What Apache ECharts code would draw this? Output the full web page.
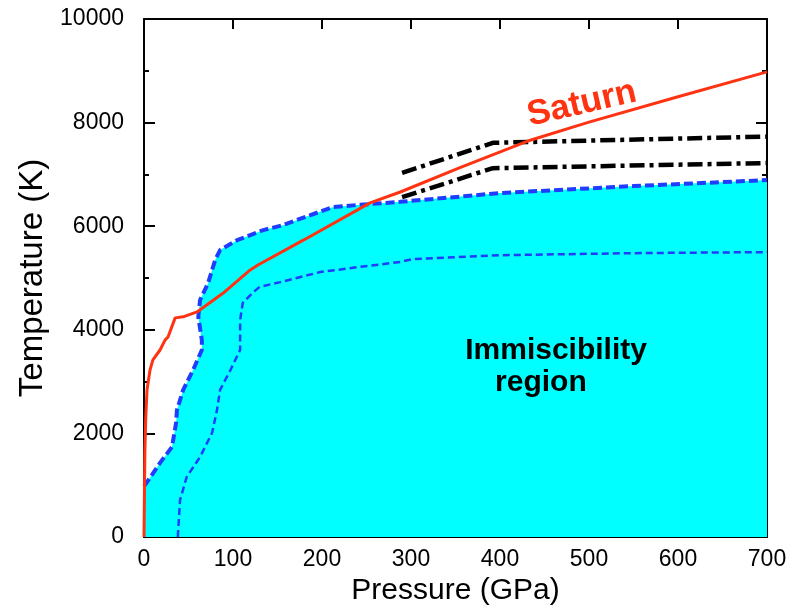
<!DOCTYPE html>
<html>
<head>
<meta charset="utf-8">
<script src="https://cdn.jsdelivr.net/npm/echarts@6/dist/echarts.min.js"></script>
<style>
html,body{margin:0;padding:0;background:#fff;}
#chart{width:787px;height:606px;}
</style>
</head>
<body>
<div id="chart"></div>
<script>
// ---- data (Pressure GPa, Temperature K) ----
var xTicks = [0, 100, 200, 300, 400, 500, 600, 700];
var yTicks = [0, 2000, 4000, 6000, 8000, 10000];

var saturn = [[0,0],[1,1680],[2,2320],[3.4,2840],[6.7,3220],[10,3420],[18,3610],[23.6,3800],[27,3860],[35,4230],[44,4250],[59.6,4345],[89,4710],[119,5150],[128,5250],[179,5730],[254,6450],[288,6660],[355,7130],[434,7660],[500,8010],[600,8500],[700,8980]];

var boundaryUpper = [[0,980],[3.4,1060],[18,1430],[31.5,1740],[36,2200],[37,2450],[44,2840],[55,3220],[65,3610],[65,3800],[61,4250],[63,4575],[72,4900],[80,5350],[85.5,5540],[104.6,5730],[134,5925],[156,6020],[187,6215],[212.6,6370],[240,6410],[288,6470],[400,6640],[550,6775],[700,6890]];

var boundaryLower = [[38,0],[40.5,715],[48,1160],[63,1545],[76.5,2010],[82,2450],[85.5,2840],[97,3220],[108,3610],[108,4190],[111,4520],[123,4730],[130,4830],[153,4920],[198,5115],[243,5215],[288,5310],[302,5365],[400,5440],[550,5480],[700,5500]];

var blackUpper = [[290,7030],[392,7610],[700,7730]];
var blackLower = [[290,6560],[392,7120],[700,7220]];

var annotations = [
  {text:'Saturn', pos:[492,8360], color:'#ff3311', size:35, rot:13},
  {text:'Immiscibility', pos:[463,3600], color:'#000', size:30, rot:0},
  {text:'region', pos:[446,2970], color:'#000', size:30, rot:0}
];

var fillPolygon = [[0,0]].concat(boundaryUpper).concat([[700,0]]);

var FONT = '"Liberation Sans", Arial, Helvetica, sans-serif';
var BLUE = '#1f3cff';

var chart = echarts.init(document.getElementById('chart'), null, {renderer:'canvas'});

function baseX(show){
  return {
    type:'value', min:0, max:700, interval:100,
    position: show ? 'bottom' : 'top',
    axisLine:{show:true, onZero:false, lineStyle:{color:'#000', width:2}},
    axisTick:{show:true, inside:true, length:10, lineStyle:{color:'#000', width:2}},
    axisLabel:{show:show, color:'#000', fontSize:23, fontFamily:FONT, margin:11,
      formatter:function(v){return xTicks.indexOf(v)>=0 ? String(v) : '';}},
    splitLine:{show:false},
    name: show ? 'Pressure (GPa)' : '',
    nameLocation:'middle', nameGap:23,
    nameTextStyle:{color:'#000', fontSize:30, fontFamily:FONT}
  };
}
function baseY(show){
  return {
    type:'value', min:0, max:10000, interval:2000,
    position: show ? 'left' : 'right',
    axisLine:{show:true, onZero:false, lineStyle:{color:'#000', width:2}},
    axisTick:{show:true, inside:true, length:11, lineStyle:{color:'#000', width:2}},
    minorTick:{show:true, splitNumber:2, length:5, lineStyle:{color:'#000', width:2}},
    axisLabel:{show:show, color:'#000', fontSize:23, fontFamily:FONT, margin:20,
      formatter:function(v){return yTicks.indexOf(v)>=0 ? String(v) : '';}},
    splitLine:{show:false},
    name: show ? 'Temperature (K)' : '',
    nameLocation:'middle', nameGap:92,
    nameTextStyle:{color:'#000', fontSize:33, fontFamily:FONT}
  };
}

var option = {
  animation:false,
  backgroundColor:'#fff',
  grid:{left:144, right:20, top:19, bottom:69, containLabel:false, outerBoundsMode:'none'},
  xAxis:[baseX(true), baseX(false)],
  yAxis:[baseY(true), baseY(false)],
  series:[
    {
      type:'custom', xAxisIndex:0, yAxisIndex:0, silent:true, z:1,
      data:[[0,0]],
      renderItem:function(params, api){
        var pts = fillPolygon.map(function(p){return api.coord(p);});
        return {type:'polygon', shape:{points:pts}, style:{fill:'#00ffff', stroke:null}};
      }
    },
    {
      type:'line', data:boundaryLower, showSymbol:false, silent:true, z:3,
      lineStyle:{color:BLUE, width:2.5, type:[7,4]}
    },
    {
      type:'line', data:boundaryUpper, showSymbol:false, silent:true, z:4,
      lineStyle:{color:BLUE, width:4, type:[9,4]}
    },
    {
      type:'line', data:blackUpper, showSymbol:false, silent:true, z:5,
      lineStyle:{color:'#000', width:4.5, type:[15,5,4,5]}
    },
    {
      type:'line', data:blackLower, showSymbol:false, silent:true, z:5,
      lineStyle:{color:'#000', width:4.5, type:[15,5,4,5]}
    },
    {
      type:'line', data:saturn, showSymbol:false, silent:true, z:6,
      lineStyle:{color:'#ff3311', width:3}
    }
  ]
};
chart.setOption(option);

var g = annotations.map(function(a){
  var px = chart.convertToPixel({xAxisIndex:0, yAxisIndex:0}, a.pos);
  return {
    type:'text', x:px[0], y:px[1], rotation:a.rot*Math.PI/180, z:100,
    style:{text:a.text, fill:a.color, font:'bold '+a.size+'px '+FONT, align:'center', verticalAlign:'middle'}
  };
});
chart.setOption({graphic:g});
</script>
</body>
</html>
